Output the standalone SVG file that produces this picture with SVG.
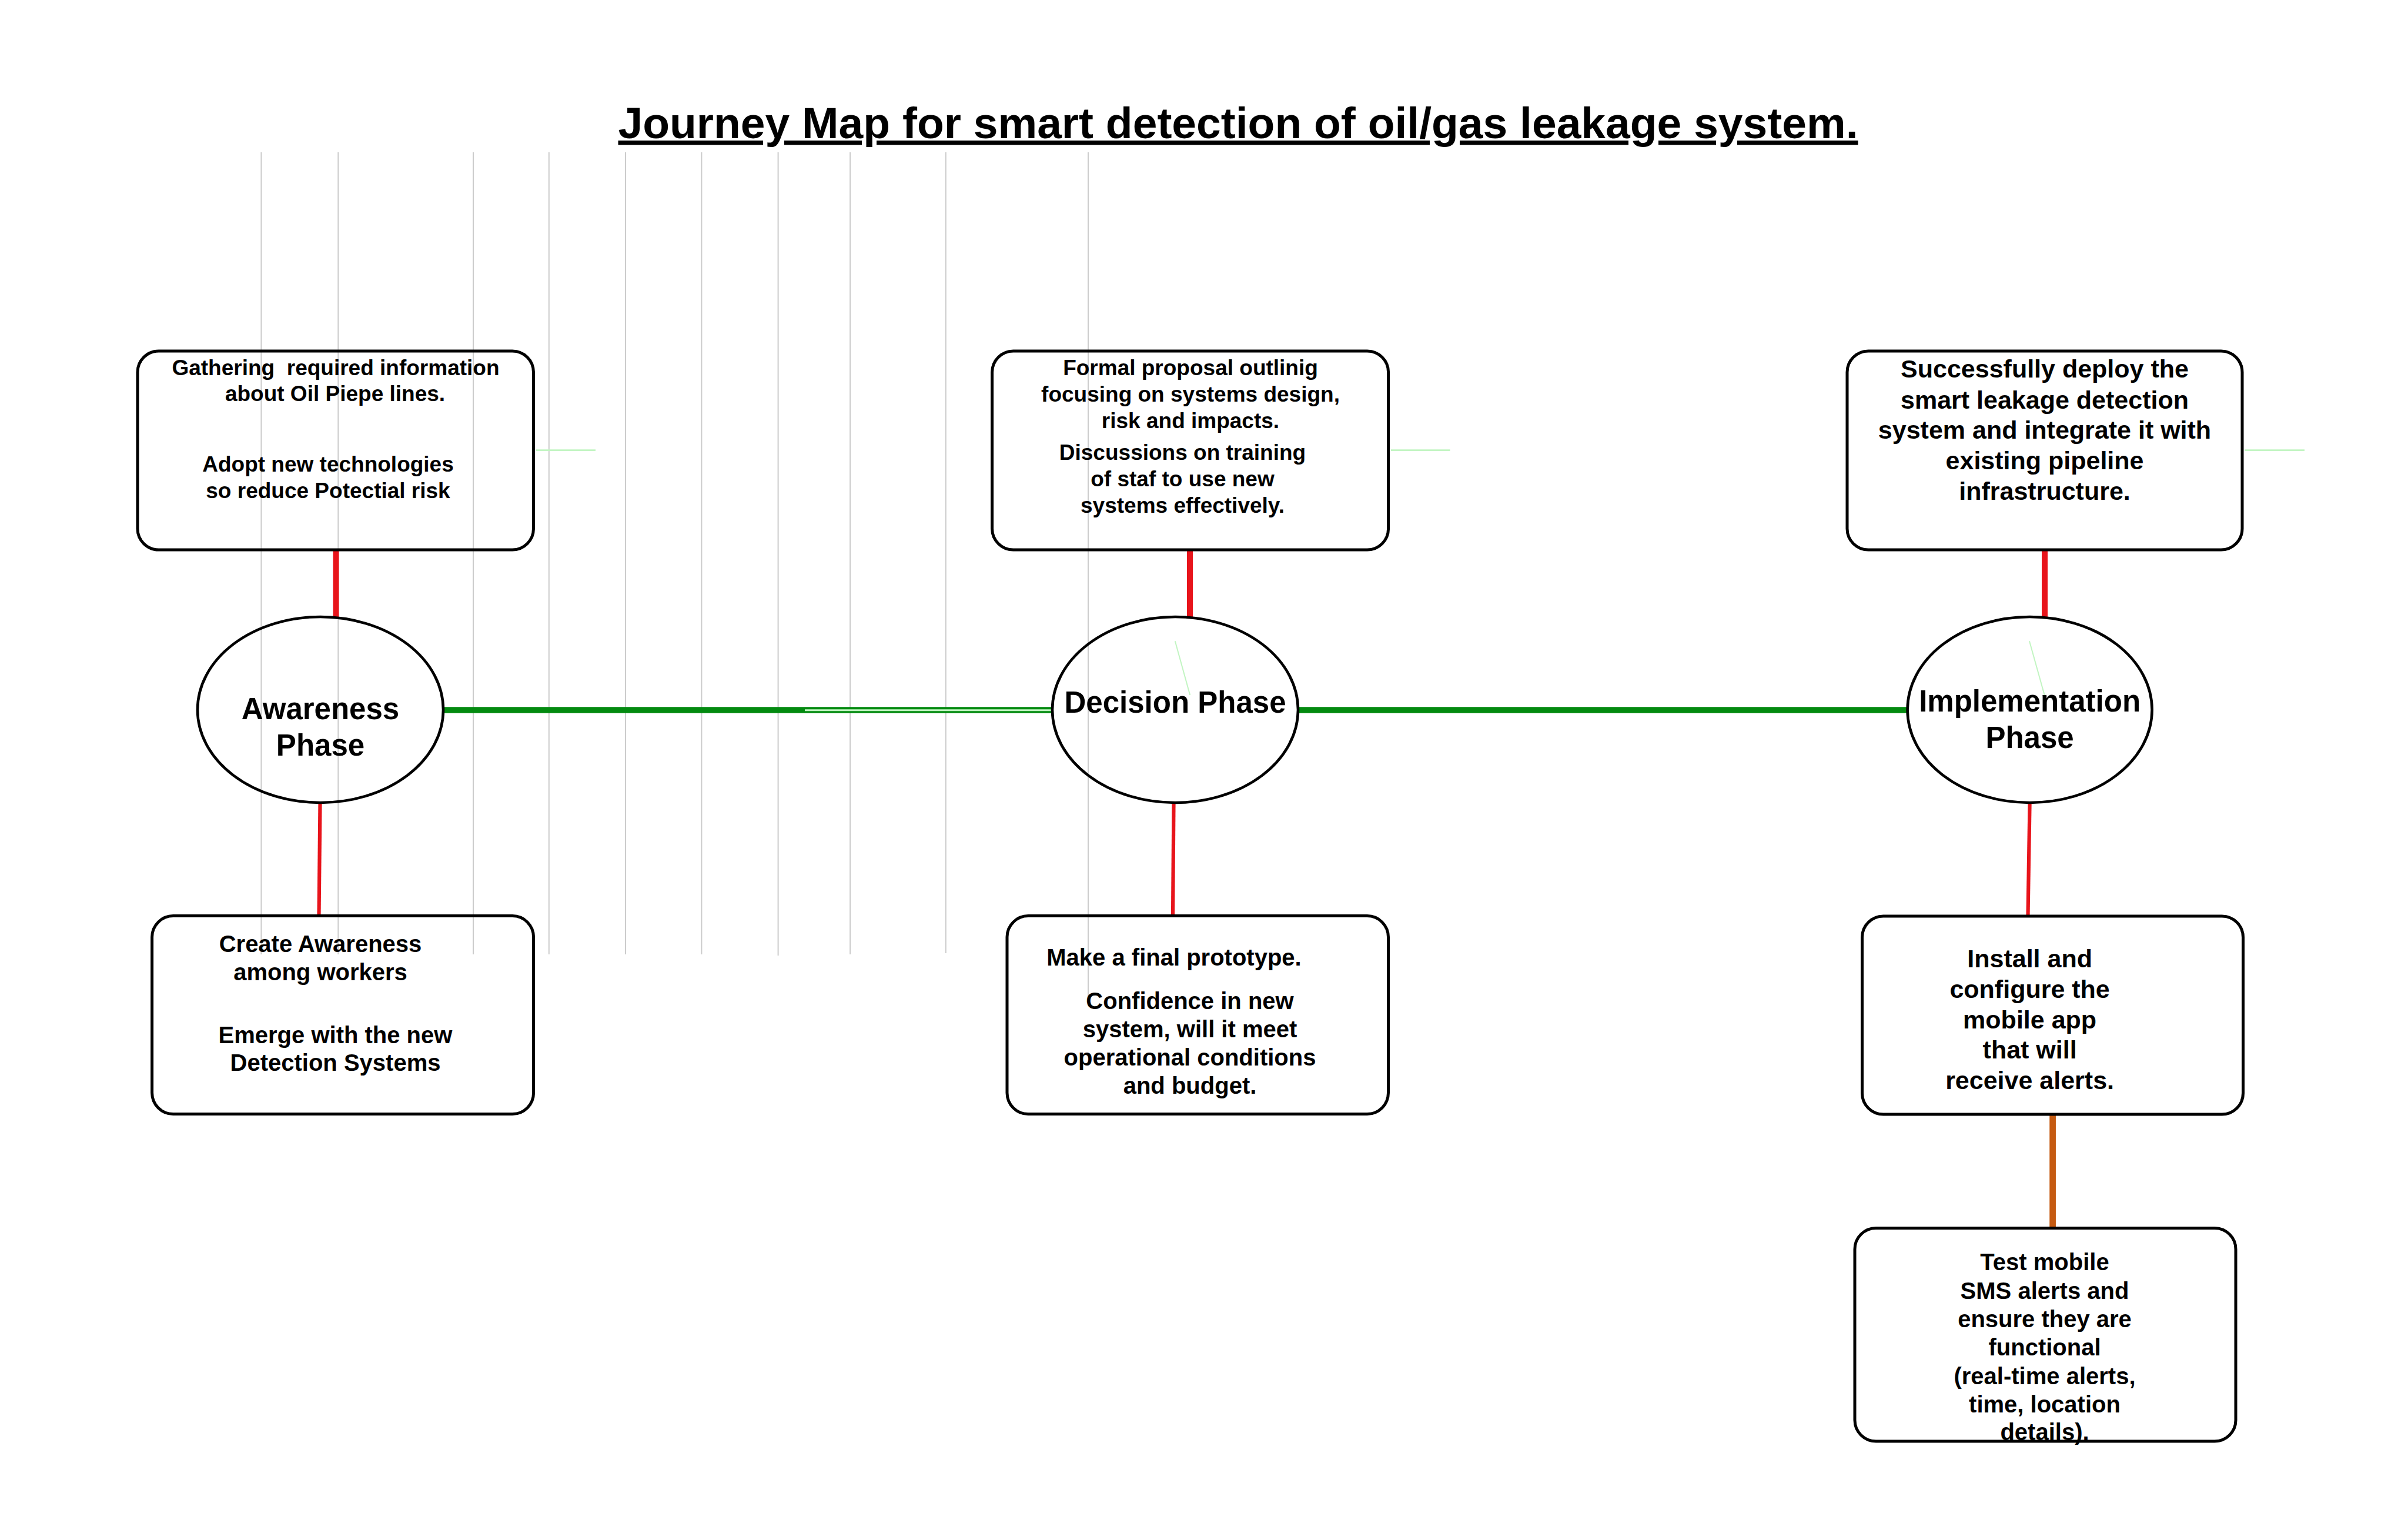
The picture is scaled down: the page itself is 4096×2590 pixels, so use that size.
<svg xmlns="http://www.w3.org/2000/svg" width="4096" height="2590" viewBox="0 0 4096 2590">
<style>
.box{fill:none;stroke:#000;stroke-width:5}
.ell{fill:none;stroke:#000;stroke-width:4.6}
.grid{stroke:#cccccc;stroke-width:2}
.t{font-family:"Liberation Sans",Arial,sans-serif;font-weight:bold;fill:#000;text-anchor:middle;white-space:pre}
.s37{font-size:37px}
.s40{font-size:40px}
.s43{font-size:43px}
.s51{font-size:51px}
.red{stroke:#e8141b;fill:none}
.pale{stroke:#c2f5c2;fill:none}
</style>
<rect width="4096" height="2590" fill="#fff"/>
<g id="title">
<text class="t" x="2106" y="235" font-size="75" text-decoration="underline">Journey Map for smart detection of oil/gas leakage system.</text>
</g>
<g id="grid-lines">
<line class="grid" x1="444.4" y1="259" x2="444.4" y2="1623"/>
<line class="grid" x1="575.3" y1="259" x2="575.3" y2="1623"/>
<line class="grid" x1="805" y1="259" x2="805" y2="1623"/>
<line class="grid" x1="933.8" y1="259" x2="933.8" y2="1623"/>
<line class="grid" x1="1064" y1="259" x2="1064" y2="1623"/>
<line class="grid" x1="1193.4" y1="259" x2="1193.4" y2="1623"/>
<line class="grid" x1="1323.6" y1="259" x2="1323.6" y2="1625"/>
<line class="grid" x1="1446.1" y1="259" x2="1446.1" y2="1623"/>
<line class="grid" x1="1608.8" y1="259" x2="1608.8" y2="1621"/>
<line class="grid" x1="1851" y1="259" x2="1851" y2="1700"/>
</g>
<g id="connectors">
<line x1="754.5" y1="1207.5" x2="1789.5" y2="1207.5" stroke="#038a10" stroke-width="10.4"/>
<line class="pale" x1="1369" y1="1207.8" x2="1788" y2="1207.8" stroke-width="3"/>
<line x1="2208" y1="1207.5" x2="3244" y2="1207.5" stroke="#038a10" stroke-width="10.4"/>
<line class="red" x1="571.5" y1="935" x2="571.5" y2="1050" stroke-width="10"/>
<line class="red" x1="544.5" y1="1365" x2="542.5" y2="1557.6" stroke-width="6.2"/>
<line class="red" x1="2024" y1="935" x2="2024" y2="1050" stroke-width="10"/>
<line class="red" x1="1996.5" y1="1365" x2="1995" y2="1557.6" stroke-width="6.2"/>
<line class="red" x1="3478" y1="935" x2="3478" y2="1050" stroke-width="10"/>
<line class="red" x1="3452.6" y1="1365" x2="3449.5" y2="1558" stroke-width="6.2"/>
<line x1="3491.6" y1="1895" x2="3491.6" y2="2088.5" stroke="#c55a11" stroke-width="10.7"/>
<line class="pale" x1="912" y1="765.6" x2="1013" y2="765.6" stroke-width="2.8"/>
<line class="pale" x1="2366" y1="765.6" x2="2466.5" y2="765.6" stroke-width="2.8"/>
<line class="pale" x1="3818" y1="765.6" x2="3920" y2="765.6" stroke-width="2.8"/>
<line class="pale" x1="1998.8" y1="1090.2" x2="2024.2" y2="1181.9" stroke-width="2"/>
<line class="pale" x1="3452" y1="1090.3" x2="3477.8" y2="1182.4" stroke-width="2"/>
</g>
<g id="box-gathering">
<rect class="box" x="234" y="597" width="673.5" height="338" rx="36"/>
<text class="t s37" x="571" y="638" xml:space="preserve">Gathering  required information</text>
<text class="t s37" x="570" y="682">about Oil Piepe lines.</text>
<text class="t s37" x="558" y="802">Adopt new technologies</text>
<text class="t s37" x="558" y="847">so reduce Potectial risk</text>
</g>
<g id="box-proposal">
<rect class="box" x="1687.6" y="597" width="674" height="338" rx="36"/>
<text class="t s37" x="2025" y="638">Formal proposal outlinig</text>
<text class="t s37" x="2025" y="683">focusing on systems design,</text>
<text class="t s37" x="2025" y="728">risk and impacts.</text>
<text class="t s37" x="2011.5" y="782">Discussions on training</text>
<text class="t s37" x="2011.5" y="827">of staf to use new</text>
<text class="t s37" x="2011.5" y="872">systems effectively.</text>
</g>
<g id="box-deploy">
<rect class="box" x="3142" y="597" width="672" height="338" rx="36"/>
<text class="t s43" x="3478" y="642">Successfully deploy the</text>
<text class="t s43" x="3478" y="694.5">smart leakage detection</text>
<text class="t s43" x="3478" y="746">system and integrate it with</text>
<text class="t s43" x="3478" y="798">existing pipeline</text>
<text class="t s43" x="3478" y="850">infrastructure.</text>
</g>
<g id="node-awareness">
<ellipse class="ell" cx="545" cy="1207" rx="209" ry="158"/>
<text class="t s51" x="545" y="1223">Awareness</text>
<text class="t s51" x="545" y="1285">Phase</text>
</g>
<g id="node-decision">
<ellipse class="ell" cx="1999" cy="1207" rx="209" ry="158"/>
<text class="t s51" x="1999" y="1211.5">Decision Phase</text>
</g>
<g id="node-implementation">
<ellipse class="ell" cx="3452.6" cy="1207" rx="208" ry="158"/>
<text class="t s51" x="3452.6" y="1209.6">Implementation</text>
<text class="t s51" x="3452.6" y="1271.6">Phase</text>
</g>
<g id="box-awareness-workers">
<rect class="box" x="258.6" y="1557.6" width="649" height="337" rx="36"/>
<text class="t s40" x="545" y="1618.5">Create Awareness</text>
<text class="t s40" x="545" y="1667">among workers</text>
<text class="t s40" x="570.5" y="1773.5">Emerge with the new</text>
<text class="t s40" x="570.5" y="1821">Detection Systems</text>
</g>
<g id="box-prototype">
<rect class="box" x="1713" y="1557.6" width="648.5" height="337" rx="36"/>
<text class="t s40" x="1997" y="1642">Make a final prototype.</text>
<text class="t s40" x="2024" y="1716">Confidence in new</text>
<text class="t s40" x="2024" y="1764">system, will it meet</text>
<text class="t s40" x="2024" y="1812">operational conditions</text>
<text class="t s40" x="2024" y="1860">and budget.</text>
</g>
<g id="box-install">
<rect class="box" x="3167.5" y="1558" width="648" height="337" rx="36"/>
<text class="t s43" x="3452.6" y="1644.7">Install and</text>
<text class="t s43" x="3452.6" y="1697">configure the</text>
<text class="t s43" x="3452.6" y="1748.6">mobile app</text>
<text class="t s43" x="3452.6" y="1799.5">that will</text>
<text class="t s43" x="3452.6" y="1851.7">receive alerts.</text>
</g>
<g id="box-test">
<rect class="box" x="3155" y="2088.5" width="648" height="362.5" rx="36"/>
<text class="t s40" x="3478" y="2160.3">Test mobile</text>
<text class="t s40" x="3478" y="2208.8">SMS alerts and</text>
<text class="t s40" x="3478" y="2256.5">ensure they are</text>
<text class="t s40" x="3478" y="2305.3">functional</text>
<text class="t s40" x="3478" y="2353.6">(real-time alerts,</text>
<text class="t s40" x="3478" y="2402.3">time, location</text>
<text class="t s40" x="3478" y="2449">details).</text>
</g>
</svg>
